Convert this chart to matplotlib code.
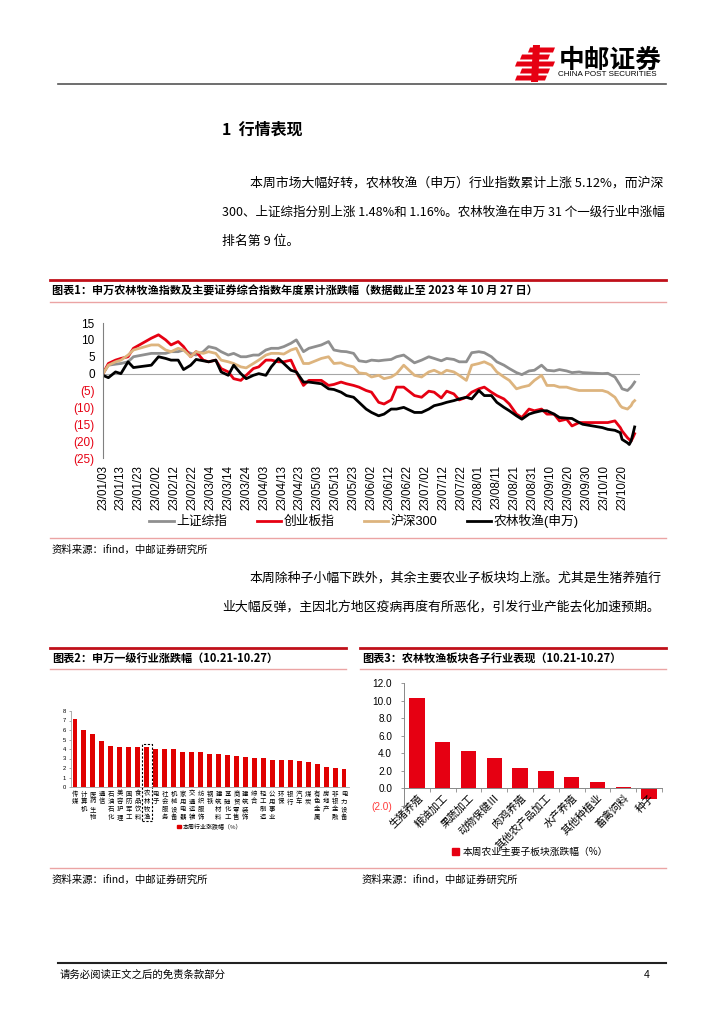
import matplotlib
matplotlib.use("Agg")
import matplotlib.pyplot as plt
from matplotlib.lines import Line2D
from matplotlib.patches import Rectangle, Polygon
import pandas as pd
import numpy as np

CJK = ['Noto Sans CJK SC', 'DejaVu Sans']
NUM = ['Liberation Sans', 'Noto Sans CJK SC', 'DejaVu Sans']
plt.rcParams['font.family'] = CJK
plt.rcParams['axes.unicode_minus'] = False

# ---------------- data: chart 1 ----------------
dates = ["01-03", "01-06", "01-10", "01-13", "01-17", "01-20", "01-30",
         "02-03", "02-07", "02-10", "02-14", "02-17", "02-21", "02-24", "02-28",
         "03-03", "03-07", "03-10", "03-14", "03-17", "03-21", "03-24", "03-28", "03-31",
         "04-04", "04-07", "04-11", "04-14", "04-18", "04-21", "04-25", "04-28",
         "05-05", "05-09", "05-12", "05-16", "05-19", "05-23", "05-26", "05-30",
         "06-02", "06-06", "06-09", "06-13", "06-16", "06-20", "06-26", "06-30",
         "07-04", "07-07", "07-11", "07-14", "07-18", "07-21", "07-25", "07-28",
         "08-01", "08-04", "08-08", "08-11", "08-15", "08-18", "08-22", "08-25", "08-29",
         "09-01", "09-05", "09-08", "09-12", "09-15", "09-19", "09-22", "09-26", "09-28",
         "10-09", "10-12", "10-16", "10-19", "10-20", "10-23", "10-24", "10-25", "10-26", "10-27"]

sh_composite = [0, 2.5, 2.8, 3, 3.5, 5, 6,
                6, 6, 6.5, 6.5, 7, 6, 5.5, 6.5,
                8, 7.5, 6.5, 5.5, 6, 5, 5, 5.5, 5.5,
                7, 7.5, 7.5, 8, 9, 10, 6.5, 7.5,
                8.5, 9.5, 7, 6.6, 6.5, 6, 3.8, 3.5,
                4, 3.8, 4, 4.2, 5, 5.5, 3.2, 4,
                5, 4.5, 3.8, 4.5, 4.2, 3.5, 3.5, 6.2,
                6.5, 6.2, 5, 3.5, 2.5, 1.5, 0.3, -0.3, 0.8,
                1, 2.5, 1, 0.8, 1.2, 0.8, 0.3, 0.5, 0.3,
                0, 0.1, -1, -3.5, -4.5, -5, -4.5, -4, -3.3, -2.5]

chinext = [0, 3, 4, 4.5, 5, 7.5, 10.5,
           11.5, 10, 8.5, 9.5, 8, 5, 6.5, 4,
           3.5, 4, 1.5, 0.5, -1.5, -2, -0.5, 1.5, 2,
           4, 4, 3.5, 3.5, 4, 0.5, -3.5, -2,
           -2, -3.5, -3.2, -2.5, -3, -3.5, -4, -5,
           -5.5, -8.5, -9, -7.8, -4, -4, -6.5, -7,
           -5.2, -5.5, -7.2, -5.2, -6, -7.8, -7, -5.5,
           -4.5, -4, -5.5, -6.5, -7.5, -9, -12, -13, -10.5,
           -11, -10.5, -12, -12, -14, -13.5, -15.5, -14.5, -14.5,
           -14.5, -14.5, -14, -16, -17, -19, -19.5, -20, -19, -17.8]

csi300 = [0, 2.5, 3.5, 4, 5.5, 7, 8.5,
          8.5, 7, 6.5, 7.5, 7, 5, 6.5, 6,
          6.5, 6, 4, 3.5, 3, 2, 1.7, 3, 4,
          5.5, 6, 6, 5.8, 7, 7.5, 3, 3,
          4.5, 5, 3, 3.2, 2.5, 2, 0.2, 0,
          -1, -0.5, -1.5, -1, 0, 2.5, -0.5, -1,
          0.5, 1, 0, 1, 0.5, -0.5, -2, 2.5,
          3, 3.5, 2.5, 0.5, -1, -2, -4.5, -4, -3.5,
          -2, -0.5, -3.5, -3.5, -4, -4, -4.5, -5, -5,
          -5, -5.5, -7, -9.5, -10, -10.5, -10, -9.5, -8.5, -8]

agri_sw = [-0.5, -1.2, 0.5, 0, 3.5, 1.8, 2.5,
           5, 4.5, 4, 4, 1.2, 2.5, 4.2, 3.8,
           3.5, 4, 0.5, -0.5, 2.5, 0, -1.5, -0.5, 0,
           -0.5, 2, 4.5, 3, 1, 0.5, -2.5, -2.5,
           -3, -4.5, -4.7, -5.5, -6.5, -7, -8.5, -10.5,
           -11.5, -12.5, -12, -10.5, -10.5, -10, -11.5, -11.5,
           -10.5, -9.5, -9, -8.5, -8, -7.5, -7, -7.5,
           -5, -6.5, -6.5, -8.5, -10, -11, -12.5, -13.5, -12,
           -11.5, -11, -11, -12, -13, -13.2, -13.3, -14.5, -15,
           -16, -16.5, -16.8, -17.5, -19.5, -20.5, -21, -20, -18, -15.8]

series_names = ["上证综指", "创业板指", "沪深300", "农林牧渔(申万)"]

# ---------------- data: chart 2 ----------------
industries = ["传媒", "计算机", "医药生物", "通信", "石油石化", "美容护理", "国防军工", "食品饮料",
              "农林牧渔", "电子", "社会服务", "机械设备", "家用电器", "交通运输", "纺织服饰",
              "钢铁", "建筑材料", "基础化工", "商贸零售", "建筑装饰", "综合", "轻工制造",
              "公用事业", "环保", "银行", "汽车", "煤炭", "有色金属", "房地产", "非银金融", "电力设备"]
industry_chg = [7.2, 6.05, 5.55, 4.87, 4.28, 4.17, 4.17, 4.17, 4.17, 4.03, 3.97, 3.97,
                3.65, 3.65, 3.65, 3.44, 3.44, 3.34, 3.23, 3.13, 3.06, 3.03, 2.89, 2.89,
                2.82, 2.75, 2.6, 2.4, 2.09, 2.05, 1.88]

# ---------------- data: chart 3 ----------------
sub_sectors = ["生猪养殖", "粮油加工", "果蔬加工", "动物保健Ⅲ", "肉鸡养殖", "其他农产品加工",
               "水产养殖", "其他种植业", "畜禽饲料", "种子"]
sub_chg = [10.3, 5.23, 4.28, 3.52, 2.31, 1.93, 1.25, 0.76, 0.15, -1.25]

# ---------------- figure ----------------
W, H = 724, 1024
fig = plt.figure(figsize=(W / 100, H / 100), dpi=100)
fig.patch.set_facecolor("white")


def fx(x):
    return x / W


def fy(y):
    return 1 - y / H


def hline(y, x0, x1, color, lw):
    fig.add_artist(Line2D([fx(x0), fx(x1)], [fy(y), fy(y)], color=color, lw=lw))


def txt(x, y, s, size, ha="left", va="center", weight="normal", color="black", family=CJK):
    fig.text(fx(x), fy(y), s, fontsize=size, ha=ha, va=va, fontweight=weight,
             color=color, family=family)


def ax_at(x0, y0, x1, y1):
    return fig.add_axes([fx(x0), fy(y1), (x1 - x0) / W, (y1 - y0) / H])


RED = "#E60012"
LRED = "#EBA4A4"
DRED = "#C0101A"

# ---- logo ----
def poly(pts, color):
    fig.add_artist(Polygon([(fx(a), fy(b)) for a, b in pts], closed=True,
                           facecolor=color, edgecolor="none", transform=fig.transFigure))

poly([(533, 45), (540, 45), (538, 82), (531, 82)], RED)
for yy, xa, xb in [(50, 528, 553), (57, 520, 548), (64, 515, 553), (71, 520, 548), (78, 515, 545)]:
    poly([(xa + 2, yy - 2.5), (xb + 2, yy - 2.5), (xb, yy + 2.5), (xa, yy + 2.5)], RED)
txt(559, 60, "中邮证券", 18.5, weight="bold")
txt(558, 75, "CHINA POST SECURITIES", 5.8, family=NUM)
hline(84, 58, 666, "#555555", 1.2)

# ---- section heading and paragraph ----
txt(222, 130, "1  行情表现", 11.5, weight="bold")
txt(250, 183, "本周市场大幅好转，农林牧渔（申万）行业指数累计上涨 5.12%，而沪深", 9.3)
txt(222, 212, "300、上证综指分别上涨 1.48%和 1.16%。农林牧渔在申万 31 个一级行业中涨幅", 9.0)
txt(222, 241, "排名第 9 位。", 9.3)

# ---- chart 1 frame ----
hline(280, 50, 666, DRED, 2.0)
txt(52, 291, "图表1：申万农林牧渔指数及主要证券综合指数年度累计涨跌幅（数据截止至 2023 年 10 月 27 日）",
    8.0, weight="bold")
hline(302, 50, 666, LRED, 1.0)

ax1 = ax_at(103, 323, 640, 458)
xd = pd.to_datetime(["2023-" + d for d in dates])
colors = ["#8F8F8F", RED, "#DDB47E", "black"]
handles = []
for vals, c, name in zip([sh_composite, chinext, csi300, agri_sw], colors, series_names):
    h, = ax1.plot(xd, vals, color=c, lw=2.0, label=name, solid_joinstyle="round")
    handles.append(h)
ax1.axhline(0, color="#A6A6A6", lw=0.8, zorder=0)
ax1.set_ylim(-25, 15)
ax1.set_xlim(pd.Timestamp("2023-01-03"), pd.Timestamp("2023-10-30"))
ax1.set_yticks(np.arange(-25, 16, 5))
ax1.set_yticklabels([str(v) if v >= 0 else "(%d)" % (-v) for v in np.arange(-25, 16, 5)],
                    family=NUM, fontsize=8.5)
for lab, v in zip(ax1.get_yticklabels(), np.arange(-25, 16, 5)):
    lab.set_color(RED if v < 0 else "black")
ticks = pd.date_range("2023-01-03", "2023-10-20", freq="10D")
ax1.set_xticks(ticks)
ax1.set_xticklabels([t.strftime("%y/%m/%d") for t in ticks], rotation=90, family=NUM, fontsize=8.3)
ax1.tick_params(axis="both", length=0)
ax1.tick_params(axis="y", pad=6)
ax1.tick_params(axis="x", pad=5)
for s in ["top", "right", "bottom"]:
    ax1.spines[s].set_visible(False)
ax1.spines["left"].set_color("#808080")
ax1.spines["left"].set_linewidth(0.8)
ax1.patch.set_alpha(0)

fig.legend(handles, series_names, loc="center", bbox_to_anchor=(fx(364), fy(521)), ncol=4,
           frameon=False, handlelength=1.9, columnspacing=2.3, handletextpad=0.2,
           borderpad=0, prop={"family": NUM, "size": 9.2})

hline(538, 50, 666, LRED, 1.0)
txt(52, 550, "资料来源：ifind，中邮证券研究所", 7.5)

txt(250, 578, "本周除种子小幅下跌外，其余主要农业子板块均上涨。尤其是生猪养殖行", 9.3)
txt(222, 607, "业大幅反弹，主因北方地区疫病再度有所恶化，引发行业产能去化加速预期。", 9.3)

# ---- chart 2/3 titles ----
hline(648, 50, 346, DRED, 2.0)
hline(648, 360, 666, DRED, 2.0)
txt(52, 658, "图表2：申万一级行业涨跌幅（10.21-10.27）", 8.0, weight="bold")
txt(362, 658, "图表3：农林牧渔板块各子行业表现（10.21-10.27）", 8.0, weight="bold")
hline(669, 50, 346, LRED, 1.0)
hline(669, 360, 666, LRED, 1.0)

# ---- chart 2 ----
ax2 = ax_at(70.5, 711, 348.5, 787)
x2 = np.arange(len(industries))
ax2.bar(x2, industry_chg, width=0.55, color="#E00000", edgecolor="none")
ax2.set_xlim(-0.5, len(industries) - 0.5)
ax2.set_ylim(0, 8)
ax2.set_yticks(range(0, 9))
ax2.set_yticklabels([str(v) for v in range(0, 9)], fontsize=4.2, family=NUM)
ax2.set_xticks(x2)
ax2.set_xticklabels(["\n".join(s) for s in industries], fontsize=4.6, linespacing=0.95)
ax2.tick_params(axis="x", length=0, pad=2)
ax2.tick_params(axis="y", length=1.5, width=0.5, pad=1.5, color="#888888")
for s in ["top", "right"]:
    ax2.spines[s].set_visible(False)
for s in ["left", "bottom"]:
    ax2.spines[s].set_color("#A0A0A0")
    ax2.spines[s].set_linewidth(0.6)
idx = industries.index("农林牧渔")
ax2.add_patch(Rectangle((idx - 0.55, -3.6), 1.1, 8.1, fill=False, ls=(0, (2, 1.5)),
                        lw=0.8, edgecolor="black", clip_on=False))
ax2.legend([Rectangle((0, 0), 1, 1, color="#E00000")], ["本周行业涨跌幅（%）"],
           loc="center", bbox_to_anchor=(0.5, -0.52), frameon=False,
           prop={"family": CJK, "size": 4.3}, handlelength=0.6, handleheight=0.6,
           handletextpad=0.3)

# ---- chart 3 ----
ax3 = ax_at(404, 683, 662, 806)
x3 = np.arange(len(sub_sectors))
ax3.bar(x3, sub_chg, width=0.6, color="#E60012", edgecolor="none")
ax3.set_xlim(-0.45, len(sub_sectors) - 0.5)
ax3.set_ylim(-2, 12)
yt = np.arange(-2, 13, 2)
ax3.set_yticks(yt)
ax3.set_yticklabels(["%.1f" % v if v >= 0 else "(%.1f)" % (-v) for v in yt],
                    family=NUM, fontsize=7.2)
for lab, v in zip(ax3.get_yticklabels(), yt):
    lab.set_color("#FF3B3B" if v < 0 else "black")
ax3.spines["bottom"].set_position(("data", 0))
ax3.set_xticks(x3)
ax3.set_xticklabels(sub_sectors, rotation=45, ha="right", va="top",
                    rotation_mode="anchor", fontsize=7.6)
ax3.set_xticks(np.arange(-0.5, len(sub_sectors), 1), minor=True)
ax3.tick_params(axis="x", which="major", length=0, pad=3)
ax3.tick_params(axis="x", which="minor", length=3, width=0.6, color="#888888")
ax3.tick_params(axis="y", length=2.5, width=0.6, color="#888888", pad=6)
for s in ["top", "right"]:
    ax3.spines[s].set_visible(False)
for s in ["left", "bottom"]:
    ax3.spines[s].set_color("#888888")
    ax3.spines[s].set_linewidth(0.7)
ax3.legend([Rectangle((0, 0), 1, 1, color="#E60012")], ["本周农业主要子板块涨跌幅（%）"],
           loc="center", bbox_to_anchor=((530 - 404) / 258, (806 - 852) / 123),
           frameon=False, prop={"family": CJK, "size": 7}, handlelength=0.7,
           handleheight=0.7, handletextpad=0.3)

hline(868, 50, 666, LRED, 1.0)
txt(52, 880, "资料来源：ifind，中邮证券研究所", 7.5)
txt(362, 880, "资料来源：ifind，中邮证券研究所", 7.5)

# ---- footer ----
hline(963, 58, 666, "#222222", 1.5)
txt(60, 975, "请务必阅读正文之后的免责条款部分", 7.5)
txt(650, 975, "4", 7.5, ha="right", family=NUM)

fig.savefig("out.png", dpi=100)
